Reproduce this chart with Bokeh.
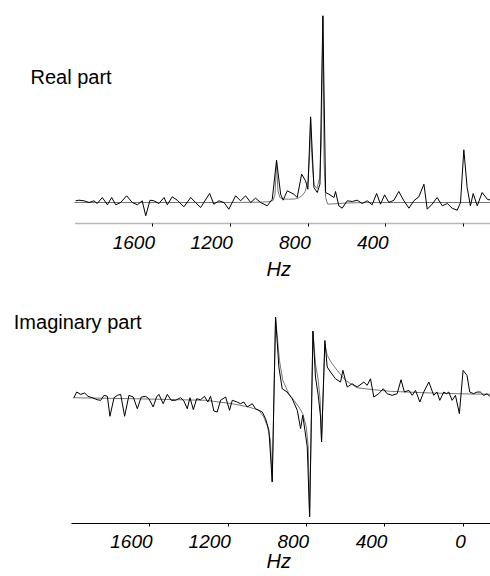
from bokeh.plotting import figure
from bokeh.models import Range1d, FixedTicker, Label
from bokeh.layouts import column
from bokeh.embed import file_html
from bokeh.resources import INLINE

# ---------------- data (y in arbitrary units) ----------------
tick_values = [1600, 1200, 800, 400, 0]
tick_labels = ["1600", "1200", "800", "400", "0"]
x_label = "Hz"

# Real part: measured spectrum
real_hz = [1994, 1977, 1951, 1925, 1900, 1883, 1857, 1831, 1809, 1788, 1763, 1732, 1703, 1677,
           1652, 1634, 1612, 1592, 1566, 1540, 1523, 1498, 1472, 1438, 1403, 1378, 1352, 1306,
           1284, 1258, 1232, 1207, 1172, 1147, 1121, 1095, 1070, 1044, 1010, 984, 962, 941, 928,
           907, 873, 856, 833, 813, 801, 787, 770, 753, 739, 724, 710, 693, 667, 659, 642, 625,
           599, 573, 548, 522, 496, 471, 448, 428, 407, 385, 359, 334, 308, 282, 257, 231, 205,
           188, 163, 137, 111, 85, 60, 34, 17, 0, -17, -34, -48, -69, -94, -120, -137]
real_obs = [1.7, 2.3, 1.7, 0, 1.7, -1, 5, -2.3, 5, -2.3, 0, 6.7, 0, -2.3, 1.7, -13.3, 2.3, 1.7,
            -1, 5, -2.3, 5.7, 2.3, -4.3, 5, 0, -5, 9, -1.7, 1.7, 0, -6.7, 6.7, 1.7, 6.7, 0, 4.3,
            0, -3.3, 3.3, 42.3, 8.3, 2.3, 11.7, 8.3, 5, 28.3, 21.7, 13.3, 85.7, 15, 10, 18.3, 187,
            10, 8.3, 5, 11, -3.3, -5.7, 1.7, 1, 2.3, -1, 1.7, -2.3, 9, -1.7, 7.7, 0, 2.3, 11, 1.7,
            -5.7, 1.7, 5.7, 18.3, -6.7, -1.7, 5, -3.3, -1, -5.7, -7.7, 0, 52.7, 15, -3.3, 9, -3.3,
            10, 3.3, 2.3]

# Real part: fitted model
real_fit_hz = [2000, 1200, 1050, 1000, 980, 970, 962, 955, 945, 930, 900, 870, 850, 830, 815, 800,
               792, 787, 782, 770, 755, 740, 732, 724, 718, 710, 700, 680, 640, 600, 500, -137]
real_fit = [0, 0, 0.3, 0.8, 2, 8, 40, 12, 5, 3.5, 3.3, 3.5, 4.5, 7, 11, 22, 50, 84, 50, 18, 14,
            25, 60, 186, 40, 5, -1.5, -1.5, -1, -0.5, 0, 0]

# Imaginary part: measured spectrum
imag_hz = [1988, 1974, 1954, 1933, 1916, 1894, 1869, 1851, 1834, 1817, 1804, 1783, 1766, 1749,
           1729, 1707, 1685, 1664, 1644, 1622, 1605, 1583, 1566, 1554, 1532, 1511, 1491, 1469,
           1443, 1426, 1409, 1395, 1378, 1361, 1341, 1321, 1304, 1290, 1273, 1256, 1239, 1213,
           1193, 1179, 1154, 1137, 1120, 1103, 1077, 1060, 1043, 1026, 1009, 992, 975, 958, 941,
           924, 899, 873, 847, 830, 819, 808, 796, 784, 767, 754, 740, 728, 723, 706, 694, 677,
           652, 626, 614, 592, 567, 541, 507, 490, 473, 456, 431, 408, 388, 362, 337, 317, 300,
           277, 260, 243, 221, 201, 175, 150, 133, 119, 99, 85, 73, 56, 39, 19, 0, -20, -34, -54,
           -71, -88, -105, -122, -140]
imag_obs = [-1.7, 4, 1.7, 3, -0.3, -1.7, -3.7, -4.3, 0.7, -0.3, -20.3, -1.7, 0.7, 1.7, -20.3,
            0.7, -1, -12.7, -1, -0.3, -2.7, -11, -1, 1.7, -7.7, 1.7, -4.3, -4.3, -1.7, -5, -12.7,
            -1.7, -13.7, -2.7, -3.7, -0.3, -6, -0.3, -15, -16, -4.3, -1, -14.3, -4.3, -6, -7.7,
            -6, -11, -7.7, -12.7, -14.3, -16, -22.7, -34.3, -86, 79, 29, 7.3, 4, -2.7, -14.3,
            -32.7, -19.3, -34.3, -51, -121, 65, 19, 0.7, -21, -46, 55.7, 29, 24, 17.3, 14, 25.7,
            9, 12.3, 9, 14, 10.7, 17.3, -1, 2.3, 7.3, 2.3, 0.7, 2.3, 16.3, 4, 5.7, 0.7, 5.7, -6,
            4, 14, 0.7, 4, -4.3, 4, 2.3, 4, -4.3, 0.7, -17.7, 25.7, 20.7, 4, 2.3, 4, 4, 0.7, 2.3,
            -1]

# Imaginary part: fitted model
imag_fit_hz = [1993, 1681, 1315, 1179, 1094, 1043, 1018, 1001, 984, 975, 958, 938, 921, 890, 864,
               839, 819, 801, 791, 784, 767, 754, 740, 730, 723, 706, 694, 669, 643, 601, 541,
               456, 371, 201, 31, -140]
imag_fit = [-1.7, -2.7, -4.3, -7.7, -11, -14.3, -21, -29.3, -44.3, -86, 79, 35.7, 15.7, 2.3,
            -4.3, -11, -17.7, -31, -51, -121, 65, 32.3, 15.7, -4.3, -46, 52.3, 40.7, 32.3, 25.7,
            15.7, 8.3, 6.3, 4.7, 3.3, 2.3, 1.7]

FONT = "Liberation Sans"
NBSP = "\u00a0"


def style_axis(p, bounds, line_color, line_dash, line_width, label_standoff, axis_standoff,
               hide_zero):
    ax = p.xaxis[0]
    ax.bounds = bounds
    ax.ticker = FixedTicker(ticks=tick_values, minor_ticks=[])
    # labels sit to the left of their tick (right-aligned): pad with trailing no-break spaces
    overrides = {v: t + NBSP * (2 * len(t) - 1) for v, t in zip(tick_values, tick_labels)}
    if hide_zero:
        overrides[0] = ""
    ax.major_label_overrides = overrides
    ax.axis_line_color = line_color
    ax.axis_line_dash = line_dash
    ax.axis_line_width = line_width
    ax.major_tick_in = 0
    ax.major_tick_out = 3
    ax.major_tick_line_color = "black"
    ax.minor_tick_line_color = None
    ax.major_label_text_font = FONT
    ax.major_label_text_font_style = "italic"
    ax.major_label_text_font_size = "19px"
    ax.major_label_text_color = "black"
    ax.major_label_standoff = label_standoff
    ax.axis_label_text_font = FONT
    ax.axis_label_text_font_style = "italic"
    ax.axis_label_text_font_size = "20px"
    ax.axis_label_text_color = "black"
    ax.axis_label_standoff = axis_standoff


def clean(p):
    p.grid.visible = False
    p.outline_line_color = None
    p.background_fill_color = "white"
    p.border_fill_color = "white"


# the axis title sits under the axis line (which starts at 2000 Hz), not under the whole frame
axis_title = NBSP * 12 + x_label

# ---------------- top panel: real part ----------------
p1 = figure(width=490, height=285, x_range=Range1d(2380, -137), y_range=Range1d(-21, 187),
            output_backend="svg", toolbar_location=None, y_axis_location=None,
            x_axis_label=axis_title, min_border_left=0, min_border_right=0,
            min_border_top=15, min_border_bottom=62)
clean(p1)
style_axis(p1, (-137, 2000), "#6e6e6e", "1 1", 1.6, 5, 2, True)
p1.line(real_fit_hz, real_fit, line_color="#777777", line_width=1)
p1.line(real_hz, real_obs, line_color="black", line_width=1)
p1.add_layout(Label(x=2226, y=125.7, text="Real part", text_font=FONT, text_font_size="20px",
                    text_align="left", text_baseline="alphabetic", text_color="black"))

# ---------------- bottom panel: imaginary part ----------------
p2 = figure(width=490, height=291, x_range=Range1d(2363, -140), y_range=Range1d(-127.7, 95.7),
            output_backend="svg", toolbar_location=None, y_axis_location=None,
            x_axis_label=axis_title, min_border_left=0, min_border_right=0,
            min_border_top=15, min_border_bottom=53)
clean(p2)
style_axis(p2, (-140, 2000), "black", "solid", 1.2, 4, -5, False)
p2.line(imag_fit_hz, imag_fit, line_color="#777777", line_width=1)
p2.line(imag_hz, imag_obs, line_color="black", line_width=1)
p2.add_layout(Label(x=2295, y=74, text="Imaginary part", text_font=FONT, text_font_size="20px",
                    text_align="left", text_baseline="alphabetic", text_color="black"))

layout = column(p1, p2)
open("out.html", "w").write(file_html(layout, INLINE))
